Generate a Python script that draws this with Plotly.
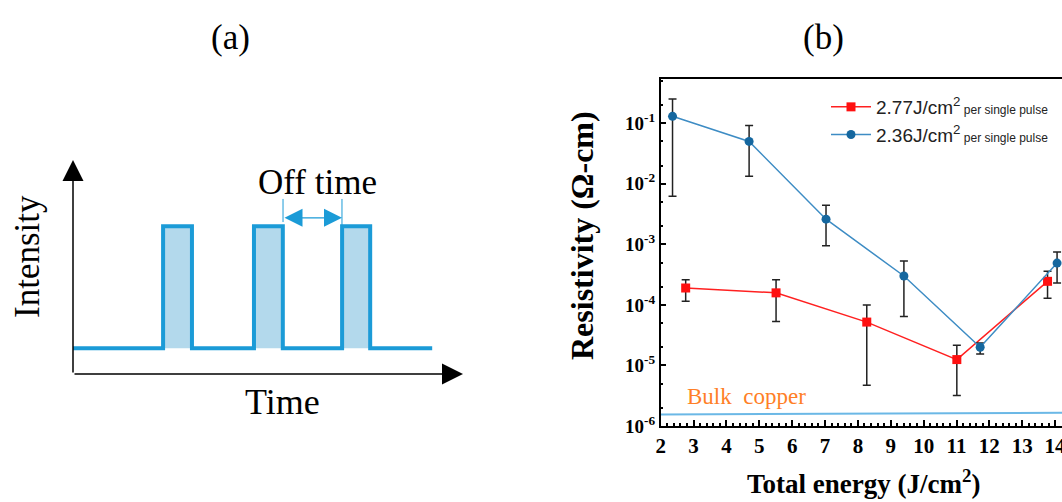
import plotly.graph_objects as go

W, H = 1062, 502
SERIF = "Liberation Serif"
SANS = "Liberation Sans"

# ---------------- Panel (b) data ----------------
red_x = [2.76, 5.51, 8.27, 11.01, 13.77]
red_y = [1.9e-4, 1.58e-4, 5.2e-5, 1.25e-5, 2.45e-4]
red_hi = [2.6e-4, 2.6e-4, 1.0e-4, 2.15e-5, 3.6e-4]
red_lo = [1.15e-4, 5.3e-5, 4.7e-6, 3.2e-6, 1.29e-4]

blue_x = [2.36, 4.69, 7.03, 9.40, 11.72, 14.06]
blue_y = [0.13, 0.05, 0.0026, 0.0003, 2.0e-5, 4.9e-4]
blue_hi = [0.25, 0.092, 0.0044, 0.00053, 2.35e-5, 7.5e-4]
blue_lo = [0.0062, 0.0133, 0.00095, 6.4e-5, 1.55e-5, 2.3e-4]

bulk_x = [2, 14.21]
bulk_y = [1.55e-6, 1.65e-6]

y_tickvals = [1e-6, 1e-5, 1e-4, 1e-3, 1e-2, 1e-1]
y_ticktext = ["10<sup>-6</sup>", "10<sup>-5</sup>", "10<sup>-4</sup>",
              "10<sup>-3</sup>", "10<sup>-2</sup>", "10<sup>-1</sup>"]
x_tickvals = list(range(2, 15))

# ---------------- Panel (a) schematic data ----------------
pulse_on = [2.31, 4.64, 6.90]
pulse_off = [3.05, 5.38, 7.62]
t_start, t_end = 0.0, 9.21
low_level, high_level = 0.12, 0.69
offtime_left, offtime_right = 5.385, 6.897
offtime_y = 0.73

wave_x = [t_start]
wave_y = [low_level]
for a, b in zip(pulse_on, pulse_off):
    wave_x += [a, a, b, b]
    wave_y += [low_level, high_level, high_level, low_level]
wave_x.append(t_end)
wave_y.append(low_level)

fig = go.Figure()

# panel (a)
fig.add_trace(go.Scatter(x=[t_start, t_end], y=[low_level, low_level], mode="lines",
                         line=dict(width=0, color="rgba(0,0,0,0)"), showlegend=False,
                         xaxis="x2", yaxis="y2", hoverinfo="skip"))
fig.add_trace(go.Scatter(x=wave_x, y=wave_y, mode="lines", fill="tonexty",
                         fillcolor="#B3D9EC", line=dict(color="#1B9BD7", width=4),
                         showlegend=False, xaxis="x2", yaxis="y2", hoverinfo="skip"))
fig.add_trace(go.Scatter(x=[offtime_left, offtime_left], y=[0.818, 0.71], mode="lines",
                         line=dict(color="#1B9BD7", width=1), showlegend=False,
                         xaxis="x2", yaxis="y2"))
fig.add_trace(go.Scatter(x=[offtime_right, offtime_right], y=[0.818, 0.60], mode="lines",
                         line=dict(color="#1B9BD7", width=1), showlegend=False,
                         xaxis="x2", yaxis="y2"))

# panel (b)
fig.add_trace(go.Scatter(x=bulk_x, y=bulk_y, mode="lines",
                         line=dict(color="#6BB8E6", width=2), showlegend=False))
fig.add_trace(go.Scatter(
    x=red_x, y=red_y, mode="lines+markers",
    name="2.77J/cm<sup>2</sup><span style='font-size:12px'> per single pulse</span>",
    line=dict(color="#FF2020", width=1.5),
    marker=dict(symbol="square", size=9, color="#FF1010"),
    error_y=dict(type="data", symmetric=False,
                 array=[h - v for h, v in zip(red_hi, red_y)],
                 arrayminus=[v - l for v, l in zip(red_y, red_lo)],
                 color="#222222", thickness=1.5, width=4)))
fig.add_trace(go.Scatter(
    x=blue_x, y=blue_y, mode="lines+markers",
    name="2.36J/cm<sup>2</sup><span style='font-size:12px'> per single pulse</span>",
    line=dict(color="#3D8CC4", width=1.5),
    marker=dict(symbol="circle", size=9, color="#15679F"),
    error_y=dict(type="data", symmetric=False,
                 array=[h - v for h, v in zip(blue_hi, blue_y)],
                 arrayminus=[v - l for v, l in zip(blue_y, blue_lo)],
                 color="#222222", thickness=1.5, width=4)))


def txt(text, xp, yp, size, angle=0, bold=False, color="black", family=SERIF):
    f = dict(family=family, size=size, color=color)
    if bold:
        f["weight"] = "bold"
    return dict(text=text, x=xp / W, y=1 - yp / H, xref="paper", yref="paper",
                xanchor="center", yanchor="middle", showarrow=False,
                textangle=angle, font=f)


annotations = [
    txt("(a)", 230, 37, 35),
    txt("(b)", 823, 37, 35),
    txt("Off time", 317, 182, 35),
    txt("Intensity", 27, 257, 35, angle=-90),
    txt("Time", 282, 402, 36),
    # axis arrows of schematic
    dict(x=10, y=0, ax=0, ay=0, xref="x2", yref="y2", axref="x2", ayref="y2",
         text="", showarrow=True, arrowhead=2, arrowsize=2.8, arrowwidth=1.5,
         arrowcolor="black"),
    dict(x=0, y=1, ax=0, ay=0, xref="x2", yref="y2", axref="x2", ayref="y2",
         text="", showarrow=True, arrowhead=2, arrowsize=2.8, arrowwidth=1.5,
         arrowcolor="black"),
    # off time double arrow
    dict(x=offtime_right, y=offtime_y, ax=offtime_left, ay=offtime_y,
         xref="x2", yref="y2", axref="x2", ayref="y2",
         text="", showarrow=True, arrowhead=2, arrowside="end+start",
         arrowsize=3.0, arrowwidth=1.2, arrowcolor="#1B9BD7"),
    # panel (b) texts
    dict(text="Bulk  copper", x=4.6, y=-5.52, xref="x", yref="y", showarrow=False,
         xanchor="center", yanchor="middle",
         font=dict(family=SERIF, size=23, color="#FF7F27")),
    txt("Resistivity (Ω-cm)", 582, 235, 32, angle=-90, bold=True),
    txt("Total energy (J/cm<sup>2</sup>)", 863, 482, 27, bold=True),
]

fig.update_layout(
    width=W, height=H,
    margin=dict(l=0, r=0, t=0, b=0, autoexpand=False),
    paper_bgcolor="white", plot_bgcolor="white",
    showlegend=True,
    legend=dict(x=826 / W, y=1 - 88 / H, xanchor="left", yanchor="top",
                traceorder="normal", bgcolor="rgba(0,0,0,0)",
                font=dict(family=SANS, size=19, color="#222"),
                itemwidth=40, tracegroupgap=0),
    xaxis=dict(domain=[660.7 / W, 1.0], range=[2, 14.21], showgrid=False, zeroline=False,
               automargin=False, ticklabeloverflow="allow",
               showline=True, linecolor="black", linewidth=1.5, mirror=True,
               ticks="inside", ticklen=6, tickwidth=1.5, tickcolor="black",
               tickvals=x_tickvals,
               tickfont=dict(family=SERIF, size=21, color="black", weight="bold"),
               minor=dict(dtick=0.2, ticks="inside", ticklen=3, tickcolor="black",
                          showgrid=False)),
    yaxis=dict(domain=[1 - 426 / H, 1 - 79 / H], type="log", range=[-6, -0.27],
               showgrid=False, zeroline=False, automargin=False,
               showline=True, linecolor="black", linewidth=1.5,
               ticks="inside", ticklen=6, tickwidth=1.5, tickcolor="black",
               tickvals=y_tickvals, ticktext=y_ticktext,
               tickfont=dict(family=SERIF, size=19, color="black", weight="bold"),
               minor=dict(ticks="inside", ticklen=3, tickcolor="black", showgrid=False)),
    xaxis2=dict(domain=[73 / W, 463 / W], range=[0, 10], visible=False, anchor="y2",
                automargin=False),
    yaxis2=dict(domain=[1 - 374 / H, 1 - 160 / H], range=[0, 1], visible=False, anchor="x2",
                automargin=False),
    annotations=annotations,
)

fig.write_html("out.html")
